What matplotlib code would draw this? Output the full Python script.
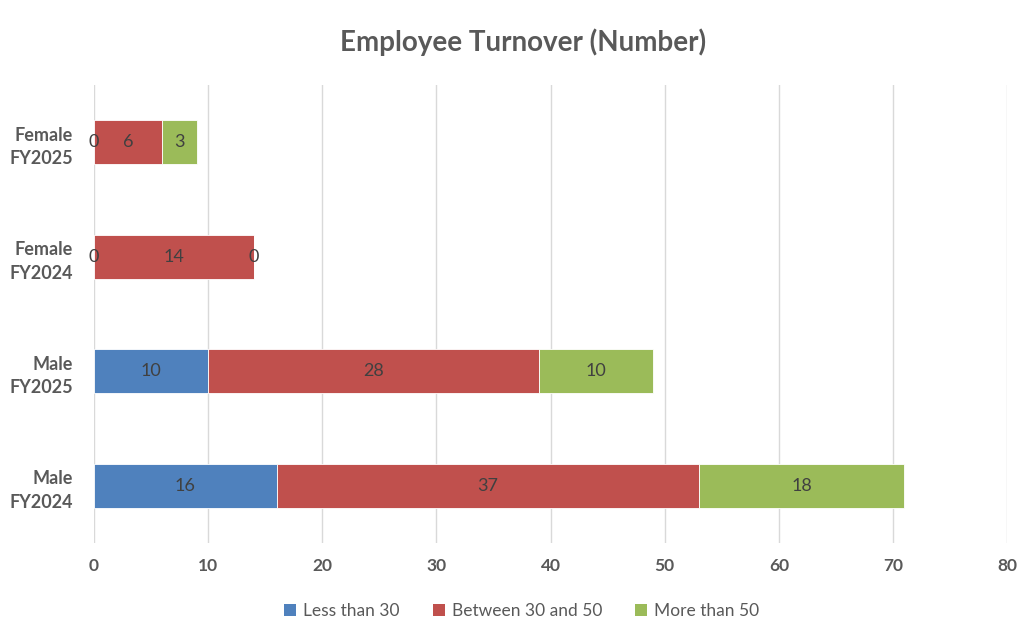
import numpy as np
import matplotlib
matplotlib.use("Agg")
from matplotlib import pyplot as plt
from matplotlib.patches import Patch

plt.rcParams['font.family'] = ['Lato', 'DejaVu Sans']

categories = ["Male\nFY2024", "Male\nFY2025", "Female\nFY2024", "Female\nFY2025"]
series = ["Less than 30", "Between 30 and 50", "More than 50"]
less_30 = [16, 10, 0, 0]
between_30_50 = [37, 29, 14, 6]     # bar lengths as drawn in the picture
more_50 = [18, 10, 0, 3]
# labels printed on the bars (the middle Male FY2025 label reads 28)
less_30_labels = ["16", "10", "0", "0"]
between_labels = ["37", "28", "14", "6"]
more_50_labels = ["18", "10", "0", "3"]
x_ticks = [0, 10, 20, 30, 40, 50, 60, 70, 80]

colors = ["#4F81BD", "#C0504D", "#9BBB59"]
text_gray = "#595959"

fig = plt.figure(figsize=(10.33, 6.31), dpi=100)
ax = fig.add_axes([0.091, 0.1395, 0.884, 0.7255])

y = np.arange(len(categories))
h = 0.385
left = np.zeros(len(categories))
all_vals = [less_30, between_30_50, more_50]
all_labels = [less_30_labels, between_labels, more_50_labels]
for vals, labs, col, name in zip(all_vals, all_labels, colors, series):
    bars = ax.barh(y, vals, height=h, left=left, color=col, label=name,
                   edgecolor="white", linewidth=0.6, zorder=3)
    txts = ax.bar_label(bars, labels=labs, label_type="center", fontsize=13,
                        color="#404040")
    for t in txts:
        t.set_clip_on(False)
        t.set_zorder(10)  # zero labels must sit above the next segment
    left = left + np.array(vals)

ax.set_xlim(0, 80)
ax.set_ylim(-0.5, 3.5)
ax.set_xticks(x_ticks)
ax.set_xticklabels([str(t) for t in x_ticks], fontsize=12.5, fontweight="bold",
                   color=text_gray)
ax.set_yticks(y)
ax.set_yticklabels(categories, fontsize=13, fontweight="bold",
                   color=text_gray, linespacing=1.45)
ax.tick_params(axis="both", length=0)
ax.tick_params(axis="x", pad=11)
ax.tick_params(axis="y", pad=15)
ax.grid(axis="x", color="#D9D9D9", linewidth=1, zorder=0)
for s in ax.spines.values():
    s.set_visible(False)

fig.text(0.506, 0.933, "Employee Turnover (Number)", ha="center", va="center",
         fontsize=20, fontweight="bold", color=text_gray)

handles = [Patch(facecolor=c, label=n) for c, n in zip(colors, series)]
fig.legend(handles=handles, loc="center", bbox_to_anchor=(0.505, 0.031), ncol=3,
           frameon=False, fontsize=12.5, handlelength=0.7, handleheight=0.7,
           handletextpad=0.4, columnspacing=1.9, labelcolor=text_gray)

fig.savefig("out.png", dpi=100, facecolor="white")
